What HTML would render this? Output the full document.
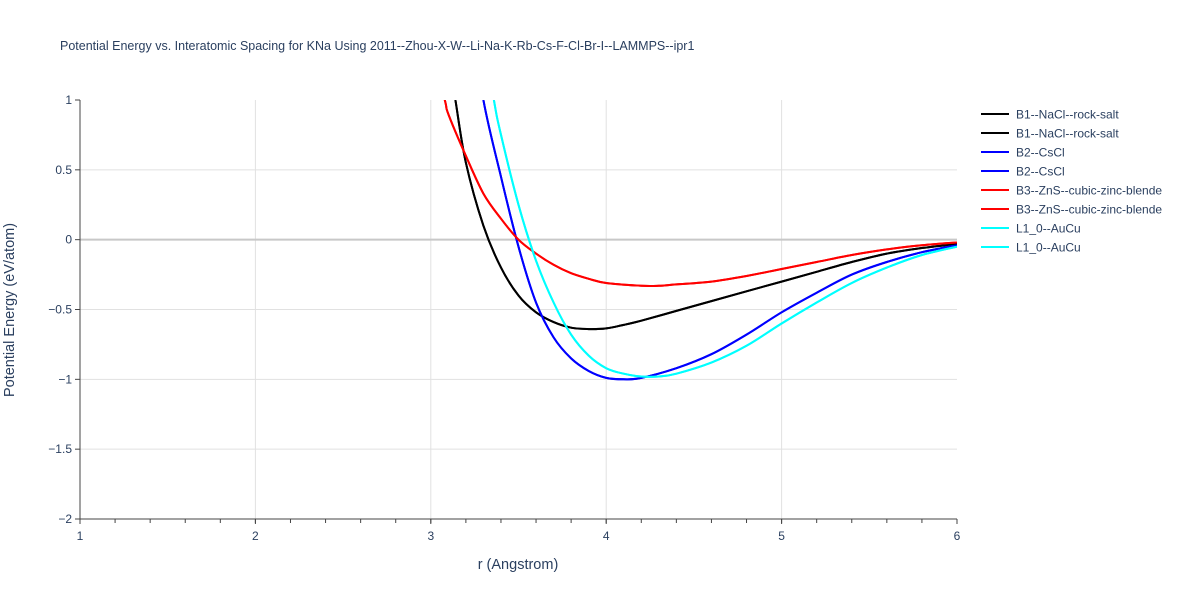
<!DOCTYPE html>
<html><head><meta charset="utf-8"><style>
body{margin:0;background:#fff;font-family:"Liberation Sans",sans-serif;}
svg text{font-family:"Liberation Sans",sans-serif;fill:#2a3f5f;}
</style></head><body>
<svg id="chart" width="1200" height="600" xmlns="http://www.w3.org/2000/svg">
<defs><clipPath id="clip"><rect x="80" y="100" width="877" height="419"/></clipPath></defs>
<text x="60" y="50" font-size="12.5">Potential Energy vs. Interatomic Spacing for KNa Using 2011--Zhou-X-W--Li-Na-K-Rb-Cs-F-Cl-Br-I--LAMMPS--ipr1</text>
<g id="grid"></g><g id="axes"></g><g id="series" clip-path="url(#clip)"></g><g id="legend"></g>
<text x="518" y="569" font-size="14.5" text-anchor="middle">r (Angstrom)</text>
<text transform="translate(14,310) rotate(-90)" font-size="14.5" text-anchor="middle">Potential Energy (eV/atom)</text>
</svg>
<script>
const xTicks=[1,2,3,4,5,6];
const yTicks=[1,0.5,0,-0.5,-1,-1.5,-2];
const yTickLabels=["1","0.5","0","−0.5","−1","−1.5","−2"];
const seriesNames=["B1--NaCl--rock-salt","B2--CsCl","B3--ZnS--cubic-zinc-blende","L1_0--AuCu"];
const seriesColors=["#000000","#0000ff","#ff0000","#00ffff"];
const b1R=[3.1,3.14,3.2,3.3,3.4,3.5,3.6,3.7,3.8,3.9,4.0,4.1,4.2,4.4,4.6,4.8,5.0,5.2,5.4,5.6,5.8,6.0];
const b1E=[1.3,1.0,0.55,0.1,-0.2,-0.4,-0.52,-0.59,-0.63,-0.64,-0.635,-0.61,-0.58,-0.51,-0.44,-0.37,-0.3,-0.23,-0.16,-0.10,-0.06,-0.03];
const b2R=[3.25,3.3,3.4,3.5,3.6,3.7,3.8,3.9,4.0,4.1,4.2,4.4,4.6,4.8,5.0,5.2,5.4,5.6,5.8,6.0];
const b2E=[1.5,1.0,0.45,-0.05,-0.45,-0.7,-0.85,-0.94,-0.99,-1.0,-0.99,-0.92,-0.82,-0.68,-0.52,-0.38,-0.25,-0.16,-0.09,-0.04];
const b3R=[3.0,3.08,3.1,3.2,3.3,3.4,3.5,3.6,3.7,3.8,3.9,4.0,4.2,4.3,4.4,4.6,4.8,5.0,5.2,5.4,5.6,5.8,6.0];
const b3E=[1.4,1.0,0.9,0.6,0.33,0.15,0.0,-0.1,-0.18,-0.24,-0.28,-0.31,-0.33,-0.33,-0.32,-0.3,-0.26,-0.21,-0.16,-0.11,-0.07,-0.04,-0.02];
const l10R=[3.3,3.36,3.4,3.5,3.6,3.7,3.8,3.9,4.0,4.1,4.2,4.3,4.4,4.6,4.8,5.0,5.2,5.4,5.6,5.8,6.0];
const l10E=[1.5,1.0,0.75,0.25,-0.15,-0.45,-0.68,-0.83,-0.92,-0.96,-0.98,-0.98,-0.96,-0.88,-0.76,-0.6,-0.45,-0.31,-0.2,-0.11,-0.05];
const allR=[b1R,b2R,b3R,l10R], allE=[b1E,b2E,b3E,l10E];
const X0=80,X1=957,Y0=100,Y1=519;
const xs=v=>X0+(v-1)/5*(X1-X0);
const ys=v=>Y0+(1-v)/3*(Y1-Y0);
const NS="http://www.w3.org/2000/svg";
function mk(t,a,p){const e=document.createElementNS(NS,t);for(const k in a)e.setAttribute(k,a[k]);p.appendChild(e);return e;}
function smooth(pts){
 let d='M'+pts[0][0].toFixed(1)+','+pts[0][1].toFixed(1);
 for(let i=0;i<pts.length-1;i++){
  const p0=pts[Math.max(i-1,0)],p1=pts[i],p2=pts[i+1],p3=pts[Math.min(i+2,pts.length-1)];
  const c1=[p1[0]+(p2[0]-p0[0])/6,p1[1]+(p2[1]-p0[1])/6];
  const c2=[p2[0]-(p3[0]-p1[0])/6,p2[1]-(p3[1]-p1[1])/6];
  d+='C'+c1[0].toFixed(1)+','+c1[1].toFixed(1)+' '+c2[0].toFixed(1)+','+c2[1].toFixed(1)+' '+p2[0].toFixed(1)+','+p2[1].toFixed(1);
 }
 return d;
}
const grid=document.getElementById('grid'),axes=document.getElementById('axes');
xTicks.forEach(v=>{
 if(v>1&&v<6){const l=mk('line',{x1:xs(v),x2:xs(v),y1:Y0,y2:Y1,stroke:'#e1e1e1'},grid);
 
 }
 const t=mk('text',{x:xs(v),y:540,'font-size':12,'text-anchor':'middle'},axes);t.textContent=v;
 
 
});
for(let v=1.2;v<6;v+=0.2){mk('line',{x1:xs(v),x2:xs(v),y1:Y1,y2:Y1+4,stroke:'#444'},axes);}
xTicks.forEach(v=>mk('line',{x1:xs(v),x2:xs(v),y1:Y1,y2:Y1+5,stroke:'#444'},axes));
yTicks.forEach((v,i)=>{
 if(v<1&&v>-2){const l=mk('line',{x1:X0,x2:X1,y1:ys(v),y2:ys(v),stroke:v===0?'#c8c8c8':'#e1e1e1','stroke-width':v===0?2:1},grid);
 
 }
 mk('line',{x1:X0-5,x2:X0,y1:ys(v),y2:ys(v),stroke:'#444'},axes);
 const t=mk('text',{x:X0-8,y:ys(v)+4,'font-size':12,'text-anchor':'end'},axes);t.textContent=yTickLabels[i];
 
 
});
mk('line',{x1:X0,x2:X0,y1:Y0,y2:Y1,stroke:'#444'},axes);
mk('line',{x1:X0,x2:X1,y1:Y1,y2:Y1,stroke:'#444'},axes);
const ser=document.getElementById('series'),leg=document.getElementById('legend');
let li=0;
allR.forEach((R,s)=>{
 for(let d=0;d<2;d++){
  const pts=R.map((r,i)=>[xs(r),ys(allE[s][i])]);
  const p=mk('path',{d:smooth(pts),fill:'none',stroke:seriesColors[s],'stroke-width':2},ser);
  
  
  const y=114+li*19;
  const g=mk('g',{},leg);
  
  
  mk('line',{x1:981,x2:1009,y1:y,y2:y,stroke:seriesColors[s],'stroke-width':2},g);
  const t=mk('text',{x:1016,y:y+4.5,'font-size':12},g);t.textContent=seriesNames[s];
  li++;
 }
});
</script>
</body></html>
